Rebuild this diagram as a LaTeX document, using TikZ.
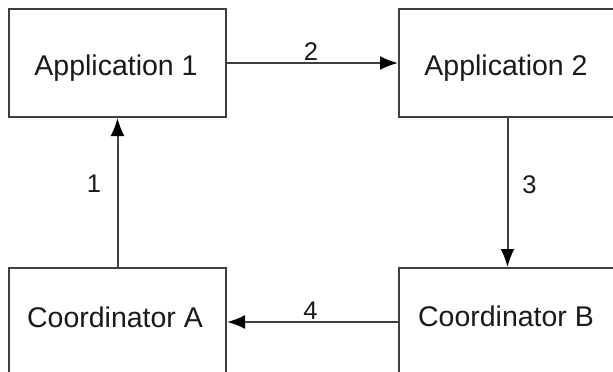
\documentclass[tikz,border=0pt]{standalone}
\usepackage{fontspec}
\setmainfont{Liberation Sans}
\usetikzlibrary{arrows.meta}
\definecolor{edgegray}{HTML}{404040}
\definecolor{inkgray}{HTML}{1A1A1A}
\begin{document}
\begin{tikzpicture}[x=1pt,y=-1pt,
  block/.style={draw=edgegray, line width=2pt, fill=white, rectangle,
    minimum width=217pt, minimum height=108pt, inner sep=0pt},
  caption/.style={anchor=base, inner sep=0pt, text=inkgray,
    font=\fontsize{28.5}{32}\selectfont},
  flow/.style={draw=edgegray, line width=2pt,
    -{Latex[length=18pt,width=14pt,fill=black,color=black]}},
  steplabel/.style={anchor=base, inner sep=0pt, text=inkgray,
    font=\fontsize{25.5}{30}\selectfont}]
  \useasboundingbox (0,0) rectangle (613,372);
  \clip (0,0) rectangle (613,372);
  \fill[white] (0,0) rectangle (613,372);

  % the four boxes
  \node[block] (app1) at (117.5,63) {};
  \node[block] (app2) at (507.5,63) {};
  \node[block] (coordA) at (117.5,322) {};
  \node[block] (coordB) at (507.5,322) {};

  % box captions, set on their baselines
  \node[caption] (t1) at (116,75) {Application 1};
  \node[caption] (t2) at (506,75) {Application 2};
  \node[caption] (t3) at (115,327) {Coordinator A};
  \node[caption] (t4) at (506,326) {Coordinator B};

  % message flow
  \draw[flow] (coordA.north) -- (app1.south);
  \draw[flow] (app1.east) -- (app2.west);
  \draw[flow] (app2.south) -- (coordB.north);
  \draw[flow] (coordB.west) -- (coordA.east);

  % step numbers
  \node[steplabel] (n1) at (94,192) {1};
  \node[steplabel] (n2) at (311,60) {2};
  \node[steplabel] (n3) at (529.5,193) {3};
  \node[steplabel] (n4) at (310.5,319) {4};
\end{tikzpicture}
\end{document}
